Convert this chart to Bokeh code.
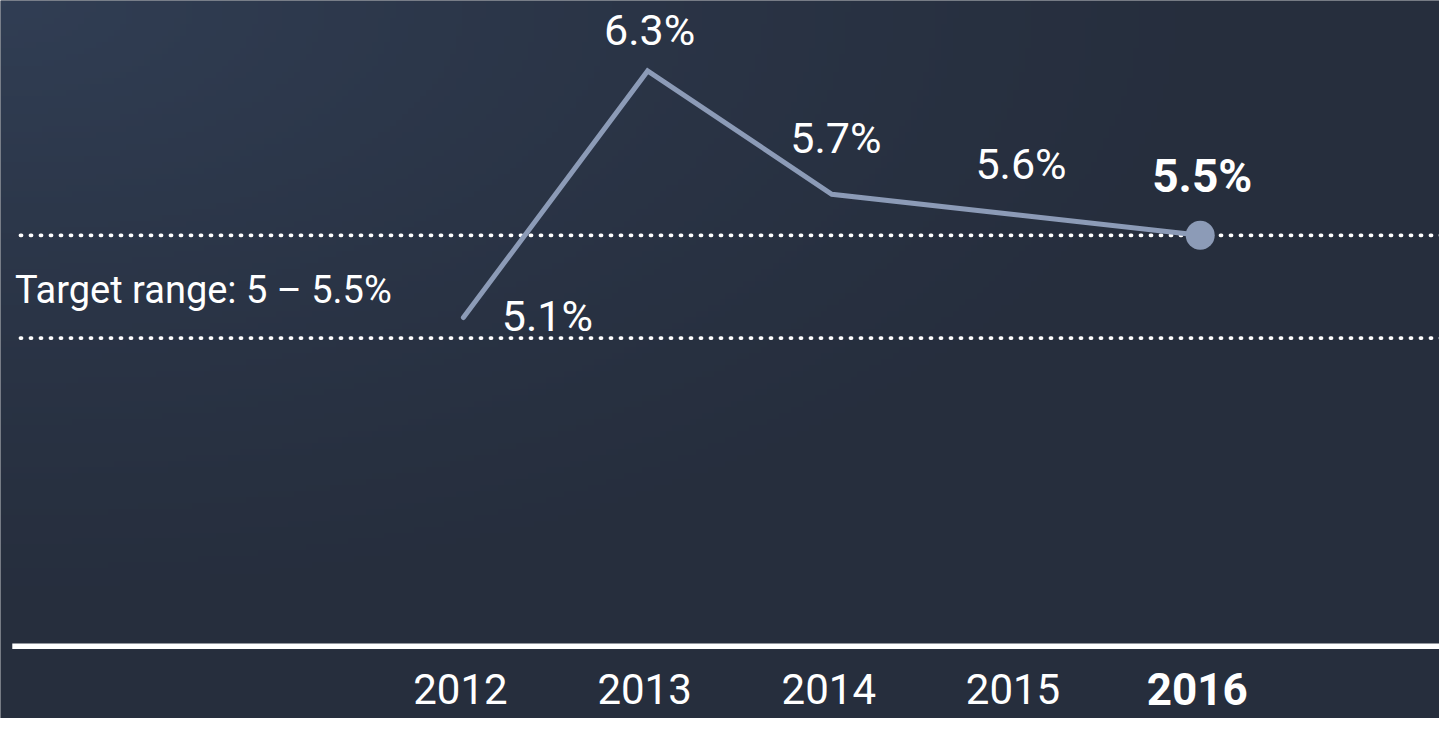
import numpy as np
from bokeh.plotting import figure
from bokeh.models import Range1d, ColumnDataSource
from bokeh.core.properties import value
from bokeh.embed import file_html
from bokeh.resources import INLINE

# ---- data ----
years = [2012, 2013, 2014, 2015, 2016]
rates = [5.1, 6.3, 5.7, 5.6, 5.5]
rate_labels = ["5.1%", "6.3%", "5.7%", "5.6%", "5.5%"]
year_labels = ["2012", "2013", "2014", "2015", "2016"]
target_low = 5.0
target_high = 5.5
target_text = "Target range: 5 \u2013 5.5%"

# ---- styling ----
FONT = "Roboto"
W, H = 1439, 718
x0, x1 = 2009.487, 2017.299
y0, y1 = 3.148, 6.643
LINE_COL = "#8c9bb7"
label_dx = [84, 2, 4, 5]
label_dy = [-1, -41, -56, -51]

p = figure(width=W, height=H, output_backend="svg", toolbar_location=None,
           x_range=Range1d(x0, x1), y_range=Range1d(y0, y1),
           min_border=0, outline_line_color=None)
p.axis.visible = False
p.grid.visible = False
p.background_fill_color = "#262e3d"
p.border_fill_color = "#262e3d"

# background gradient (top-left lighter); image row 0 = bottom
ny, nx = 120, 240
gx = np.linspace(0, 1, nx)[None, :]
gy = np.linspace(0, 1, ny)[:, None]
t = np.clip(1 - np.sqrt((gx / 0.9) ** 2 + ((1 - gy) / 0.9) ** 2), 0, 1)
c_dark = np.array([0x26, 0x2e, 0x3d])
c_light = np.array([0x31, 0x3e, 0x54])
img = np.zeros((ny, nx), dtype=np.uint32)
view = img.view(dtype=np.uint8).reshape((ny, nx, 4))
for k in range(3):
    view[:, :, k] = (c_dark[k] + (c_light[k] - c_dark[k]) * t ** 1.3).astype(np.uint8)
view[:, :, 3] = 255
p.image_rgba(image=[img], x=x0, y=y0, dw=x1 - x0, dh=y1 - y0)

# target range dotted lines
xs_start = x0 + 20 / (W / (x1 - x0))
for lvl in (target_high, target_low):
    p.segment(x0=[xs_start], y0=[lvl], x1=[x1 + 1], y1=[lvl],
              line_color="white", line_width=3.8, line_dash="1 9",
              line_cap="round")

p.text(x=[xs_start - 0.03], y=[5.236], text=[target_text], text_color="white",
       text_font=value(FONT), text_font_size="38px", text_align="left",
       text_baseline="middle")

# x axis line
p.segment(x0=[x0 + 0.064], y0=[3.5], x1=[x1 + 1], y1=[3.5],
          line_color="white", line_width=5.5)

# main line
p.line(x=years, y=rates, line_color=LINE_COL, line_width=5,
       line_cap="round", line_join="miter")
p.scatter(x=years[-1:], y=rates[-1:], size=29, fill_color=LINE_COL,
          line_color=None)

# value labels
normal = ColumnDataSource(dict(x=years[:-1], y=rates[:-1], lab=rate_labels[:-1],
                               dx=label_dx, dy=label_dy))
p.text(x="x", y="y", text="lab", x_offset="dx", y_offset="dy", source=normal,
       text_color="white", text_font=value(FONT), text_font_size="43px",
       text_align="center", text_baseline="middle")
p.text(x=years[-1:], y=rates[-1:], text=rate_labels[-1:], x_offset=2, y_offset=-59,
       text_color="white", text_font=value(FONT), text_font_size="46px",
       text_font_style="bold", text_align="center", text_baseline="middle")

# year labels
p.text(x=years[:-1], y=[3.29] * 4, text=year_labels[:-1], text_color="white",
       text_font=value(FONT), text_font_size="42px", text_align="center",
       text_baseline="middle", x_offset=-3)
p.text(x=years[-1:], y=[3.29], text=year_labels[-1:], text_color="white",
       text_font=value(FONT), text_font_size="44px", text_font_style="bold",
       text_align="center", text_baseline="middle", x_offset=-3)

open("out.html", "w").write(file_html(p, INLINE))
